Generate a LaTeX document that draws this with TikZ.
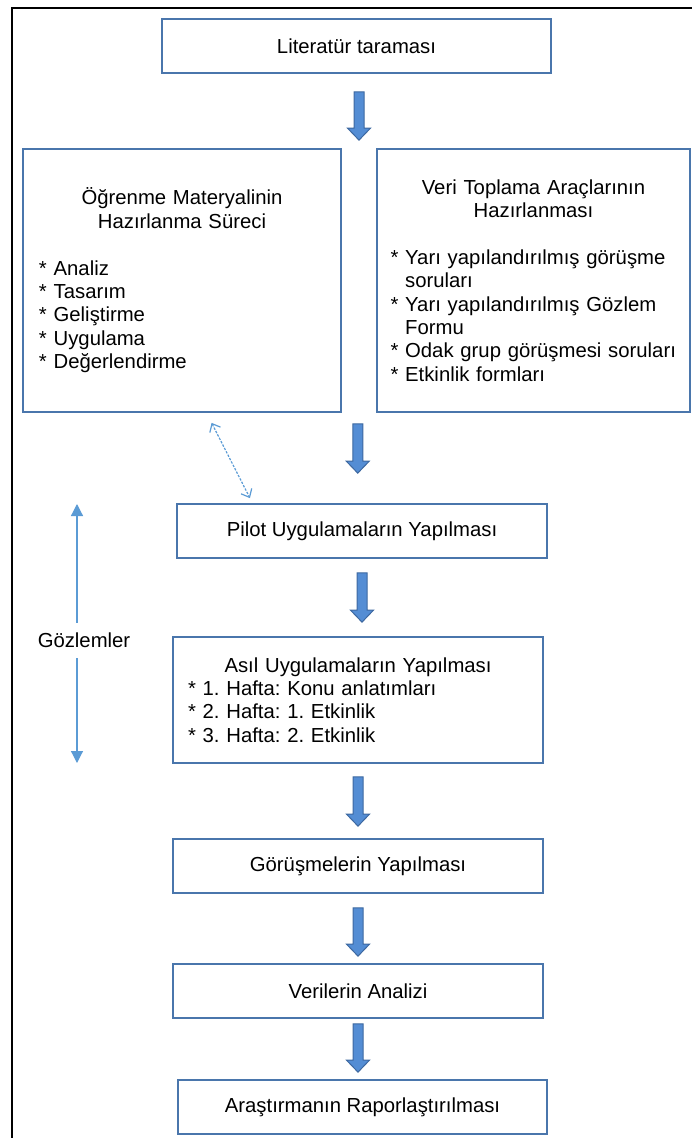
\documentclass[tikz,border=0pt]{standalone}
\usepackage{fontspec}
\setmainfont{Liberation Sans}
\usepackage{tikz}
\usetikzlibrary{arrows.meta,positioning,calc}
\definecolor{AkisKenar}{RGB}{74,118,172}
\definecolor{AkisOk}{RGB}{84,141,212}
\definecolor{AkisOkKenar}{RGB}{61,104,160}
\definecolor{AkisAcik}{RGB}{91,155,213}
\frenchspacing
\tikzset{
  kutu/.style={draw=AkisKenar, line width=0.85pt, fill=white, align=center,
               font=\fontsize{10.15pt}{11.7pt}\selectfont, inner sep=0pt},
  listekutu/.style={kutu, align=left},
  blokok/.style={draw=AkisOkKenar, fill=AkisOk, line width=0.5pt,
    to path={let \p1=(\tikztostart), \p2=(\tikztotarget) in
      (\x1-2.5pt,\y1) -- (\x1-2.5pt,\y2+6pt) -- (\x1-5.75pt,\y2+6pt) -- (\x1,\y2)
      -- (\x1+5.75pt,\y2+6pt) -- (\x1+2.5pt,\y2+6pt) -- (\x1+2.5pt,\y1) -- cycle}},
  gozok/.style={-{Triangle[width=6pt,length=6pt]}, line width=0.6pt, AkisAcik},
  noktaliok/.style={{Straight Barb[length=3.5pt,width=6pt]}-{Straight Barb[length=3.5pt,width=6pt]},
               line width=0.6pt, AkisAcik, dash pattern=on 1.2pt off 0.7pt},
  etiket/.style={font=\fontsize{10.15pt}{11.7pt}\selectfont, inner sep=0pt},
}
\newcommand{\madde}{\relax{*}~}
\begin{document}
\begin{tikzpicture}[x=0.5pt, y=-0.5pt]
  \useasboundingbox (0,0) rectangle (692,1138);
  % Cerceve
  \draw[line width=0.9pt] (12,1138) -- (12,8) -- (692,8);

  % Ana kutular
  \node[kutu, minimum width=194.5pt, minimum height=27pt] (lit) at (356.5,46)
    {Literatür taraması};
  \node[listekutu, minimum width=159pt, minimum height=131.5pt, text width=143pt] (mat) at (182,280.5)
    {\makebox[\linewidth]{Öğrenme Materyalinin}\\
     \makebox[\linewidth]{Hazırlanma Süreci}\\[11.7pt]
     \madde Analiz\\
     \madde Tasarım\\
     \madde Geliştirme\\
     \madde Uygulama\\
     \madde Değerlendirme};
  \node[listekutu, minimum width=156.5pt, minimum height=131.5pt, text width=143pt] (veri) at (533.5,280.5)
    {\makebox[\linewidth]{Veri Toplama Araçlarının}\\
     \makebox[\linewidth]{Hazırlanması}\\[11.7pt]
     \madde Yarı yapılandırılmış görüşme\\
     \hphantom{*~}soruları\\
     \madde Yarı yapılandırılmış Gözlem\\
     \hphantom{*~}Formu\\
     \madde Odak grup görüşmesi soruları\\
     \madde Etkinlik formları};
  \node[kutu, minimum width=185pt, minimum height=27pt] (pilot) at (362,531)
    {Pilot Uygulamaların Yapılması};
  \node[listekutu, minimum width=185pt, minimum height=63pt, text width=170pt] (asil) at (358,700)
    {\makebox[\linewidth]{Asıl Uygulamaların Yapılması}\\
     \madde 1. Hafta: Konu anlatımları\\
     \madde 2. Hafta: 1. Etkinlik\\
     \madde 3. Hafta: 2. Etkinlik};
  \node[kutu, minimum width=185pt, minimum height=27pt] (gor) at (358,866)
    {Görüşmelerin Yapılması};
  \node[kutu, minimum width=185pt, minimum height=27pt] (ver) at (358,991)
    {Verilerin Analizi};
  \node[kutu, minimum width=184.5pt, minimum height=27pt] (rapor) at (362.5,1107)
    {Araştırmanın Raporlaştırılması};

  % Blok oklar
  \path[blokok] ([xshift=1.25pt,yshift=-9pt]lit.south) to ([yshift=4pt]mat.north);
  \path[blokok] ($(mat.south)!.5!(veri.south)+(0,-5.5pt)$) to ([yshift=15pt]pilot.north);
  \path[blokok] ([yshift=-7pt]pilot.south) to ([yshift=7pt]asil.north);
  \path[blokok] ([yshift=-6.5pt]asil.south) to ([yshift=6pt]gor.north);
  \path[blokok] ([yshift=-7pt]gor.south) to ([yshift=3.5pt]ver.north);
  \path[blokok] ([yshift=-2.5pt]ver.south) to ([yshift=3.5pt]rapor.north);

  % Materyal ile pilot arasi
  \draw[noktaliok, shorten <=5.6pt, shorten >=2.8pt]
    ([xshift=12.25pt]mat.south) -- ([xshift=-54.75pt]pilot.north);

  % Gozlemler
  \node[etiket, minimum height=17.5pt] (goz) at (84,640.5) {Gözlemler};
  \coordinate (gozust) at (77,504);
  \coordinate (gozalt) at (77,763);
  \draw[gozok] (goz.north -| gozust) -- (gozust);
  \draw[gozok] (goz.south -| gozalt) -- (gozalt);
\end{tikzpicture}
\end{document}
